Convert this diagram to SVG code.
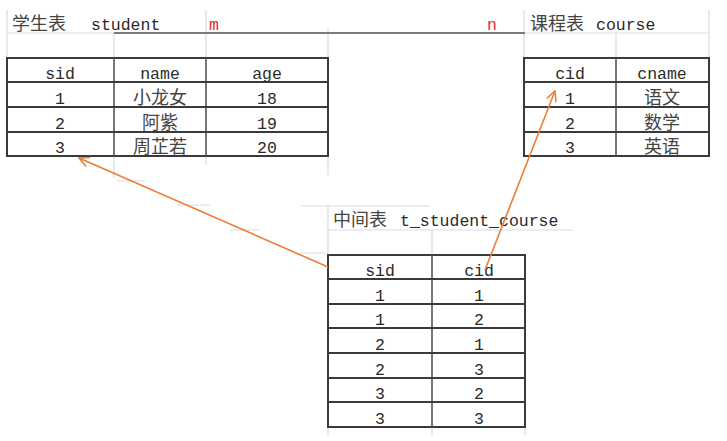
<svg xmlns="http://www.w3.org/2000/svg" width="727" height="441" viewBox="0 0 727 441">
<defs>
<style>
.grid{stroke:#d3dbea;stroke-width:1.2;fill:none}
.tb{stroke:#3a3a3a;stroke-width:2;fill:none}
.cl{stroke:#555;stroke-width:1.6;fill:none}
.t{font-family:"Liberation Mono","Noto Sans CJK SC",monospace;font-size:16.5px;fill:#2a2a2a}
.c{font-family:"Noto Sans CJK SC",sans-serif;font-size:18px;fill:#444}
.m{text-anchor:middle}
.red{fill:#e8282a}
.arr{stroke:#ef7d35;stroke-width:1.6;fill:none}
</style>
<marker id="ah" viewBox="0 0 12 12" refX="11" refY="6" markerWidth="12" markerHeight="12" markerUnits="userSpaceOnUse" orient="auto">
<path d="M1,1 L11,6 L1,11" stroke="#ef7d35" stroke-width="1.6" fill="none"/>
</marker>
</defs>
<rect width="727" height="441" fill="#fff"/>
<g id="gridlines">
<path class="grid" d="M7,10V58M114,33V58M206,10V58M328,28V58M7,33H114M114,156V178M206,156V165M328,156V175M117,181H145M524,10V58M616,33V58M709,10V58M524,33H709M300,206H430M328,206V255M432,230V255M328,230H573M300,253H328M328,427V435M432,427V435M525,427V435M177,205H210M230,230H260"/>
<path d="M114,33H525" stroke="#7a7a7a" stroke-width="1.8"/>
</g>
<g id="student">
<text class="c" x="12" y="30">学生表</text>
<text class="t" x="91" y="30">student</text>
<rect class="tb" x="7" y="58" width="321" height="98"/>
<path class="cl" d="M114,58V156M206,58V156"/>
<path class="tb" d="M7,82H328M7,107H328M7,132H328"/>
<text class="t m" x="60" y="79">sid</text>
<text class="t m" x="160" y="79">name</text>
<text class="t m" x="267" y="79">age</text>
<text class="t m" x="60" y="104">1</text><text class="c m" x="160" y="104">小龙女</text><text class="t m" x="267" y="104">18</text>
<text class="t m" x="60" y="129">2</text><text class="c m" x="160" y="129">阿紫</text><text class="t m" x="267" y="129">19</text>
<text class="t m" x="60" y="153">3</text><text class="c m" x="160" y="153">周芷若</text><text class="t m" x="267" y="153">20</text>
</g>
<g id="labels">
<text class="t red" x="209" y="30">m</text>
<text class="t red" x="487" y="30">n</text>
</g>
<g id="course">
<text class="c" x="530" y="30">课程表</text>
<text class="t" x="596" y="30">course</text>
<rect class="tb" x="524" y="58" width="185" height="98"/>
<path class="cl" d="M616,58V156"/>
<path class="tb" d="M524,82H709M524,107H709M524,132H709"/>
<text class="t m" x="570" y="79">cid</text>
<text class="t m" x="662" y="79">cname</text>
<text class="t m" x="570" y="104">1</text><text class="c m" x="662" y="104">语文</text>
<text class="t m" x="570" y="129">2</text><text class="c m" x="662" y="129">数学</text>
<text class="t m" x="570" y="153">3</text><text class="c m" x="662" y="153">英语</text>
</g>
<g id="t_student_course">
<text class="c" x="333" y="226">中间表</text>
<text class="t" x="400" y="226">t_student_course</text>
<rect class="tb" x="328" y="255" width="197" height="172"/>
<path class="cl" d="M432,255V427"/>
<path class="tb" d="M328,279H525M328,304H525M328,328H525M328,353H525M328,378H525M328,402H525"/>
<text class="t m" x="380" y="276">sid</text><text class="t m" x="479" y="276">cid</text>
<text class="t m" x="380" y="301">1</text><text class="t m" x="479" y="301">1</text>
<text class="t m" x="380" y="325">1</text><text class="t m" x="479" y="325">2</text>
<text class="t m" x="380" y="350">2</text><text class="t m" x="479" y="350">1</text>
<text class="t m" x="380" y="375">2</text><text class="t m" x="479" y="375">3</text>
<text class="t m" x="380" y="399">3</text><text class="t m" x="479" y="399">2</text>
<text class="t m" x="380" y="424">3</text><text class="t m" x="479" y="424">3</text>
</g>
<g id="connectors">
<line class="arr" x1="328" y1="267" x2="79" y2="158" marker-end="url(#ah)"/>
<line class="arr" x1="485" y1="270" x2="555" y2="91" marker-end="url(#ah)"/>
</g>
</svg>
